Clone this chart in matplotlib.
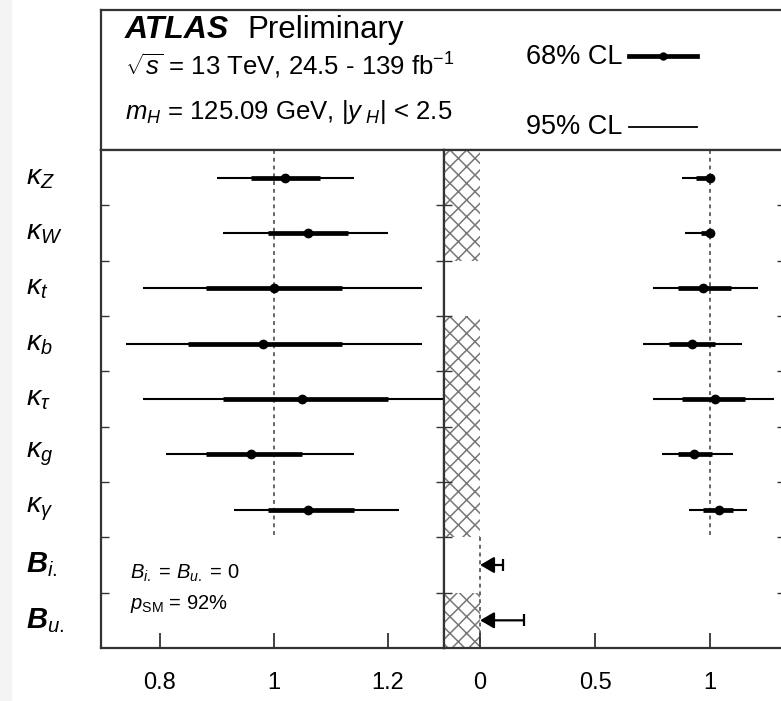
import numpy as np
import matplotlib
matplotlib.use('Agg')
from matplotlib import pyplot as plt
from matplotlib.patches import Rectangle

plt.rcParams['font.family'] = ['Liberation Sans', 'DejaVu Sans']
plt.rcParams['mathtext.fontset'] = 'custom'
plt.rcParams['mathtext.rm'] = 'Liberation Sans'
plt.rcParams['mathtext.it'] = 'Liberation Sans:italic'
plt.rcParams['mathtext.bf'] = 'Liberation Sans:bold:italic'
plt.rcParams['hatch.linewidth'] = 1.1

# row labels, top to bottom
labels = [r'$\kappa_Z$', r'$\kappa_W$', r'$\kappa_t$', r'$\kappa_b$', r'$\kappa_\tau$',
          r'$\kappa_g$', r'$\kappa_\gamma$', r'$\mathbf{B}_{i.}$', r'$\mathbf{B}_{u.}$']

# left panel: B_i. = B_u. = 0
left_val = [1.02, 1.06, 1.00, 0.98, 1.05, 0.96, 1.06]
left_lo68 = [0.96, 0.99, 0.88, 0.85, 0.91, 0.88, 0.99]
left_hi68 = [1.08, 1.13, 1.12, 1.12, 1.20, 1.05, 1.14]
left_lo95 = [0.90, 0.91, 0.77, 0.74, 0.77, 0.81, 0.93]
left_hi95 = [1.14, 1.20, 1.26, 1.26, 1.33, 1.14, 1.22]

# right panel: B_i., B_u. free
right_val = [1.00, 1.00, 0.97, 0.92, 1.02, 0.93, 1.04]
right_lo68 = [0.94, 0.96, 0.86, 0.82, 0.88, 0.86, 0.97]
right_hi68 = [1.00, 1.00, 1.09, 1.02, 1.15, 1.01, 1.10]
right_lo95 = [0.88, 0.89, 0.75, 0.71, 0.75, 0.79, 0.91]
right_hi95 = [1.00, 1.00, 1.21, 1.14, 1.28, 1.10, 1.16]
b_upper = [0.10, 0.19]          # upper limits for B_i., B_u.
hatch_rows = [0, 1, 3, 4, 5, 6, 8]  # rows with excluded negative region

left_ticks = [0.8, 1, 1.2]
right_ticks = [0, 0.5, 1]

W, H = 781, 701
fig = plt.figure(figsize=(W / 100, H / 100), dpi=100)
# light grey strip on the very left of the screenshot
fig.patches.append(Rectangle((0, 0), 11 / W, 1, transform=fig.transFigure,
                             color='#f4f4f4', zorder=-1))

def px(x0, y0, x1, y1):
    return [x0 / W, 1 - y1 / H, (x1 - x0) / W, (y1 - y0) / H]

axh = fig.add_axes(px(101, 10, 790, 150))
axl = fig.add_axes(px(101, 150, 444, 648))
axr = fig.add_axes(px(444, 150, 785, 648))

frame = '#333333'
n = len(labels)
rows = np.arange(n)
nk = len(left_val)

for ax in (axh, axl, axr):
    for s in ax.spines.values():
        s.set_color(frame)
        s.set_linewidth(1.6)

# header box, in pixel units relative to its top-left corner
axh.set_xlim(0, 689)
axh.set_ylim(140, 0)
axh.set_xticks([])
axh.set_yticks([])
axh.text(24, 20, 'ATLAS', fontsize=23, fontweight='bold', style='italic', va='center')
axh.text(146, 20, 'Preliminary', fontsize=22.5, va='center')
axh.text(24, 56, r'$\sqrt{s}$ = 13 TeV, 24.5 - 139 fb$^{\mathregular{-1}}$', fontsize=18.5, va='center')
axh.text(24, 102, r'$m_H$ = 125.09 GeV, $|y_{\ H}|$ < 2.5', fontsize=18.5, va='center')
axh.text(425, 47, '68% CL', fontsize=19.5, va='center')
axh.text(425, 117, '95% CL', fontsize=19.5, va='center')
axh.plot([528, 596], [46, 46], color='black', lw=3.4)
axh.plot([562], [46], 'o', color='black', ms=5)
axh.plot([528, 596], [117, 117], color='black', lw=1.3)


def draw_rows(ax, val, lo68, hi68, lo95, hi95):
    y = rows[:nk]
    ax.hlines(y, lo95, hi95, color='black', lw=1.5, zorder=3)
    ax.hlines(y, lo68, hi68, color='black', lw=3.4, zorder=3)
    ax.plot(val, y, 'o', color='black', ms=6, zorder=4)


def style_axis(ax, xlim, ticks):
    ax.set_xlim(*xlim)
    ax.set_ylim(n - 0.5, -0.5)
    ax.set_xticks(ticks)
    ax.set_xticklabels([str(t) for t in ticks])
    ax.set_yticks(np.arange(n - 1) + 0.5)
    ax.set_yticklabels([])
    ax.tick_params(axis='x', direction='in', length=11, width=1.3, color=frame,
                   labelsize=17, pad=17)
    ax.tick_params(axis='y', direction='in', length=6, width=1, color=frame,
                   left=True, right=True)


dots = dict(colors='#666666', linestyles=(0, (2, 2)), lw=1.4, zorder=1)

# left panel
axl.vlines(1, -0.5, nk - 0.5, **dots)
draw_rows(axl, left_val, left_lo68, left_hi68, left_lo95, left_hi95)
style_axis(axl, (0.6965, 1.2985), left_ticks)
for i, lab in enumerate(labels):
    fs = 21 if i >= nk else 20.5
    axl.text(-0.218, i, lab, transform=axl.get_yaxis_transform(), fontsize=fs,
             va='center', ha='left')
axl.text(0.085, 7.15, r'$B_{i.}$ = $B_{u.}$ = 0', transform=axl.get_yaxis_transform(),
         fontsize=14.5, va='center')
axl.text(0.085, 7.7, r'$p_{\mathregular{SM}}$ = 92%', transform=axl.get_yaxis_transform(),
         fontsize=14.5, va='center')

# right panel
xmin_r = -0.157
for r in hatch_rows:
    axr.fill_between([xmin_r, 0], r - 0.5, r + 0.5, facecolor='white',
                     edgecolor='#777777', hatch='xx', lw=0, zorder=0)
axr.vlines(1, -0.5, nk - 0.5, **dots)
axr.vlines(0, nk - 0.5, n - 0.5, **dots)
draw_rows(axr, right_val, right_lo68, right_hi68, right_lo95, right_hi95)
for j, ul in enumerate(b_upper):
    yb = nk + j
    axr.annotate('', xy=(0.0, yb), xytext=(ul, yb),
                 arrowprops=dict(arrowstyle='-|>,head_length=0.6,head_width=0.35',
                                 color='black', lw=1.6,
                                 mutation_scale=14, shrinkA=0, shrinkB=0))
    axr.plot([ul], [yb], '|', color='black', ms=9, mew=1.6)
style_axis(axr, (xmin_r, 1.326), right_ticks)

fig.savefig('out.png', dpi=100)
